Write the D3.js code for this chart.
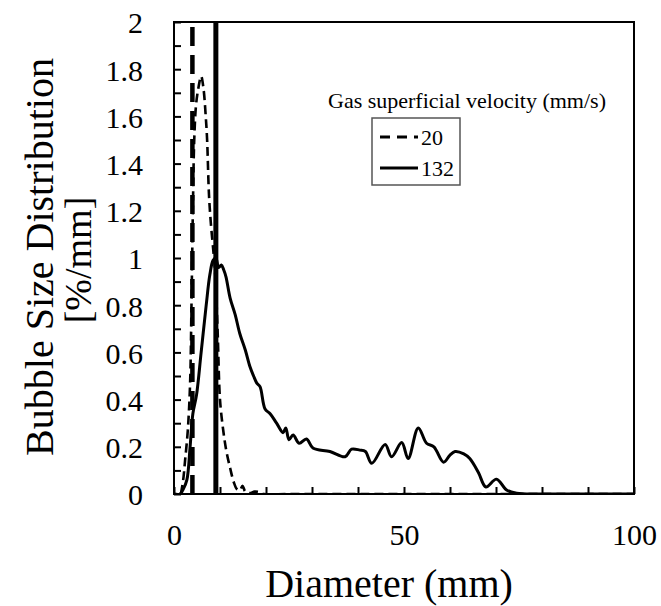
<!DOCTYPE html>
<html>
<head>
<meta charset="utf-8">
<title>Bubble Size Distribution</title>
<script src="https://d3js.org/d3.v7.min.js"></script>
<style>
  body { margin: 0; background: #fff; }
  .tick line { stroke: #000; stroke-width: 2; }
</style>
</head>
<body>
<script>
// gas superficial velocity 20 mm/s (dashed)
var d20x = [1.5, 2.0, 2.4, 3.0, 3.5, 3.8, 4.1, 4.4, 4.8, 5.3, 5.9, 6.4, 6.9, 7.2, 7.6, 8.0, 8.6, 9.0,
            9.5, 10.0, 10.7, 11.4, 12.2, 13.0, 13.7, 14.3, 14.9, 15.5, 16.5, 17.5, 18.5, 19.5, 25, 40, 60, 80, 100];
var d20y = [0, 0.06, 0.14, 0.27, 0.47, 0.8, 1.2, 1.5, 1.65, 1.72, 1.77, 1.72, 1.6, 1.5, 1.27, 1.15, 1.02, 0.92,
            0.68, 0.4, 0.27, 0.18, 0.11, 0.05, 0.02, 0.015, 0.035, 0.01, 0.004, 0.01, 0.008, 0, 0, 0, 0, 0, 0];

// gas superficial velocity 132 mm/s (solid)
var d132x = [0, 1.3, 2.0, 2.8, 3.5, 4.1, 4.9, 5.9, 7.0, 7.8, 8.5, 9.1, 9.7, 10.3, 10.8, 11.3, 12.2, 13.3,
             14.3, 15.5, 16.5, 17.3, 18.0, 18.7, 19.8, 20.9, 22.3, 23.7, 24.3, 25.0, 25.9, 27.2, 28.8, 30.2,
             33.9, 37.2, 38.6, 40.4, 41.6, 43.0, 45.9, 47.3, 49.5, 50.9, 53.1, 54.9, 56.5, 58.6, 60.0, 61.1,
             63.0, 64.3, 66.2, 67.8, 70.1, 72.3, 74.5, 80, 90, 100];
var d132y = [0, 0, 0.02, 0.06, 0.2, 0.34, 0.42, 0.6, 0.8, 0.93, 0.99, 1.0, 0.96, 0.97, 0.95, 0.92, 0.83, 0.76,
             0.68, 0.61, 0.54, 0.5, 0.47, 0.455, 0.36, 0.34, 0.3, 0.26, 0.28, 0.23, 0.25, 0.215, 0.233, 0.195,
             0.18, 0.158, 0.19, 0.186, 0.18, 0.13, 0.21, 0.158, 0.218, 0.15, 0.28, 0.215, 0.2, 0.135, 0.165, 0.18,
             0.17, 0.15, 0.09, 0.03, 0.063, 0.017, 0.003, 0, 0, 0];

// vertical marker lines (mean diameter)
var mean20 = 4.0;
var mean132 = 9.1;

var legendTitle = "Gas superficial velocity (mm/s)";
var legendNames = ["20", "132"];
var xLabelTicks = [0, 50, 100];
var yLabelTicks = [0, 0.2, 0.4, 0.6, 0.8, 1, 1.2, 1.4, 1.6, 1.8, 2];

var serif = '"Liberation Serif", "Times New Roman", serif';
var W = 661, H = 606;
var margin = {top: 22, right: 27, bottom: 112, left: 174};
var width = W - margin.left - margin.right,
    height = H - margin.top - margin.bottom;

var svg = d3.select("body").append("svg")
    .attr("width", W).attr("height", H)
    .style("font-family", serif);

var g = svg.append("g")
    .attr("transform", "translate(" + margin.left + "," + margin.top + ")");

var x = d3.scaleLinear().domain([0, 100]).range([0, width]);
var y = d3.scaleLinear().domain([0, 2]).range([height, 0]);

svg.append("defs").append("clipPath").attr("id", "clip")
  .append("rect").attr("width", width).attr("height", height);

// axes: ticks every 10 mm / 0.1, labels on a subset
var xt = d3.range(0, 101, 10);
var yt = d3.range(0, 21).map(function(i) { return i / 10; });

var gx = g.append("g")
    .attr("transform", "translate(0," + height + ")")
    .call(d3.axisBottom(x).tickValues(xt).tickSizeInner(-7).tickSizeOuter(0).tickPadding(12)
      .tickFormat(function(d) { return xLabelTicks.indexOf(d) >= 0 ? d : ""; }));
gx.select(".domain").remove();
gx.selectAll("text").attr("y", 51).attr("dy", 0)
    .style("font-family", serif).style("font-size", "30px").attr("fill", "#000");

var gy = g.append("g")
    .call(d3.axisLeft(y).tickValues(yt).tickSizeInner(-7).tickSizeOuter(0).tickPadding(31)
      .tickFormat(function(d) {
        var k = yLabelTicks.filter(function(v) { return Math.abs(v - d) < 1e-6; });
        return k.length ? d3.format("~g")(k[0]) : "";
      }));
gy.select(".domain").remove();
gy.selectAll("text").attr("dy", "0.36em")
    .style("font-family", serif).style("font-size", "30px").attr("fill", "#000");

// series
var plot = g.append("g").attr("clip-path", "url(#clip)");

var line = d3.line()
    .x(function(d) { return x(d[0]); })
    .y(function(d) { return y(d[1]); })
    .curve(d3.curveCatmullRom.alpha(0.5));

plot.append("line")
    .attr("x1", x(mean20)).attr("x2", x(mean20))
    .attr("y1", y(0)).attr("y2", y(2))
    .attr("stroke", "#000").attr("stroke-width", 4.5)
    .attr("stroke-dasharray", "19,9");

plot.append("path")
    .datum(d3.zip(d20x, d20y))
    .attr("d", line)
    .attr("fill", "none").attr("stroke", "#000")
    .attr("stroke-width", 2.6).attr("stroke-dasharray", "9,5");

plot.append("path")
    .datum(d3.zip(d132x, d132y))
    .attr("d", line)
    .attr("fill", "none").attr("stroke", "#000")
    .attr("stroke-width", 3);

plot.append("line")
    .attr("x1", x(mean132)).attr("x2", x(mean132))
    .attr("y1", y(0)).attr("y2", y(2.1))
    .attr("stroke", "#000").attr("stroke-width", 5);

// frame
g.append("rect")
    .attr("width", width).attr("height", height)
    .attr("fill", "none").attr("stroke", "#000").attr("stroke-width", 2);

// axis titles
svg.append("text")
    .attr("x", 389).attr("y", 597)
    .attr("text-anchor", "middle")
    .style("font-size", "40px")
    .text("Diameter (mm)");

svg.append("text")
    .attr("transform", "translate(53,257) rotate(-90)")
    .attr("text-anchor", "middle")
    .style("font-size", "40px")
    .text("Bubble Size Distribution");

svg.append("text")
    .attr("transform", "translate(91,260) rotate(-90)")
    .attr("text-anchor", "middle")
    .style("font-size", "38px")
    .text("[%/mm]");

// legend
svg.append("text")
    .attr("x", 328).attr("y", 108)
    .style("font-size", "22px")
    .text(legendTitle);

var lg = svg.append("g");
lg.append("rect")
    .attr("x", 372).attr("y", 118).attr("width", 88).attr("height", 67)
    .attr("fill", "#fff").attr("stroke", "#555").attr("stroke-width", 1.5);

var dashes = ["10,7", null];
var widths = [3, 3];
legendNames.forEach(function(name, i) {
  var ly = 137 + i * 31;
  lg.append("line")
      .attr("x1", 380).attr("x2", 418).attr("y1", ly).attr("y2", ly)
      .attr("stroke", "#000").attr("stroke-width", widths[i])
      .attr("stroke-dasharray", dashes[i]);
  lg.append("text")
      .attr("x", 421).attr("y", ly + 8)
      .style("font-size", "22px")
      .text(name);
});
</script>
</body>
</html>
